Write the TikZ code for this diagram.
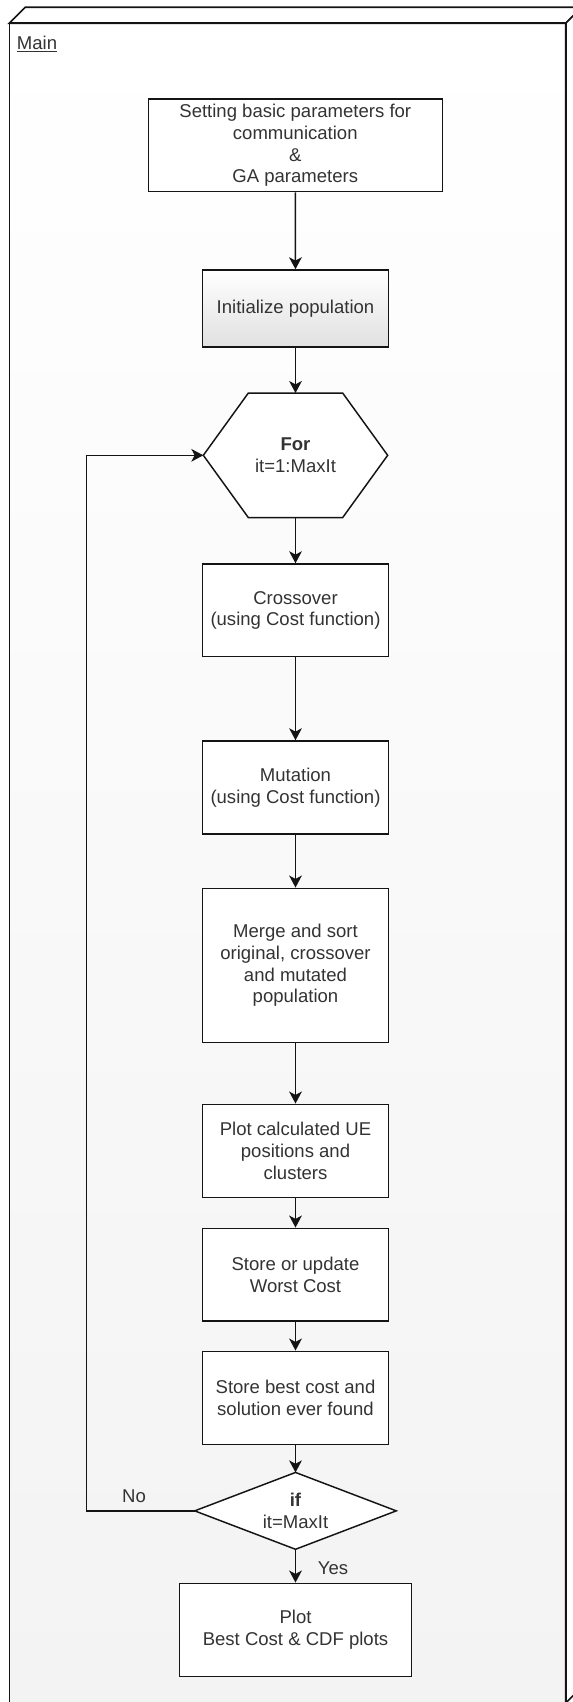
\documentclass[tikz,border=0pt]{standalone}
\usepackage{fontspec}
\setmainfont{Liberation Sans}
\usetikzlibrary{arrows.meta}
\definecolor{ink}{HTML}{141414}
\definecolor{txt}{HTML}{333333}
\definecolor{panelbot}{HTML}{F3F3F3}
\pgfdeclarelayer{frame}
\pgfdeclarelayer{shapes}
\pgfsetlayers{frame,shapes,main}
\begin{document}
\begin{tikzpicture}[x=0.75pt,y=-0.75pt,
  every node/.style={font=\fontsize{13.9}{16.3}\selectfont, text=txt},
  stepbox/.style={draw=ink, line width=1.1pt, fill=white, align=center,
    inner sep=0pt, minimum width=185.6*0.75pt, minimum height=93*0.75pt},
  ghost/.style={draw=none, align=center, inner sep=0pt},
  outline/.style={draw=ink, line width=1.1pt, fill=white},
  arr/.style={draw=ink, line width=1.1pt, -{Stealth[length=9pt,width=9.5pt,inset=2.5pt]}},
  lbl/.style={inner sep=0pt}
]
\useasboundingbox (0,0) rectangle (573,1702);
\clip (0,0) rectangle (573,1702);

% package frame (3-D box)
\begin{pgfonlayer}{frame}
  \fill[white] (0,0) rectangle (573,1702);
  \shade[top color=white, bottom color=panelbot] (9.3,23.3) rectangle (565.7,1703);
  \draw[ink, line width=1.2pt, fill=white] (9.3,23.3) -- (25.3,7.3) -- (581.7,7.3) -- (565.7,23.3) -- cycle;
  \draw[ink, line width=1.2pt, fill=white] (565.7,23.3) -- (581.7,7.3) -- (581.7,1687) -- (565.7,1703) -- cycle;
  \draw[ink, line width=1.2pt] (9.3,23.3) rectangle (565.7,1703);
\end{pgfonlayer}
\node[lbl, anchor=base west] (main) at (16.7,49.3) {\underline{Main}};

% process steps
\node[stepbox, minimum width=294*0.75pt, minimum height=92.7*0.75pt] (set) at (295.3,145.35)
  {Setting basic parameters for\\communication\\\&\\GA parameters};
\node[stepbox, minimum height=77*0.75pt, top color=white, bottom color=black!12] (init) at (295.5,308.5)
  {Initialize population};
\node[ghost, minimum width=183.8*0.75pt, minimum height=124*0.75pt] (for) at (295.5,455.3)
  {\textbf{For}\\it=1:MaxIt};
\node[stepbox, minimum height=92.7*0.75pt] (cross) at (295.5,610.35)
  {Crossover\\(using Cost function)};
\node[stepbox] (mut) at (295.5,787.5)
  {Mutation\\(using Cost function)};
\node[stepbox, minimum height=154.4*0.75pt] (merge) at (295.5,965.5)
  {Merge and sort\\original, crossover\\and mutated\\population};
\node[stepbox] (plotc) at (295.5,1150.8)
  {Plot calculated UE\\positions and\\clusters};
\node[stepbox, minimum height=92.7*0.75pt] (worst) at (295.5,1274.65)
  {Store or update\\Worst Cost};
\node[stepbox] (best) at (295.5,1397.8)
  {Store best cost and\\solution ever found};
\node[ghost, minimum width=201*0.75pt, minimum height=76.3*0.75pt] (if) at (295.5,1510.85)
  {\textbf{if}\\it=MaxIt};
\node[stepbox, minimum width=232.4*0.75pt, minimum height=93.4*0.75pt] (final) at (295.5,1630)
  {Plot\\Best Cost \& CDF plots};

% loop hexagon and decision diamond outlines
\begin{pgfonlayer}{shapes}
  \draw[outline] (for.west) -- ([xshift=33.75pt]for.north west) -- ([xshift=-33.75pt]for.north east)
    -- (for.east) -- ([xshift=-33.75pt]for.south east) -- ([xshift=33.75pt]for.south west) -- cycle;
  \draw[outline] (if.west) -- (if.north) -- (if.east) -- (if.south) -- cycle;
\end{pgfonlayer}

% connectors
\draw[arr] (set) -- (init);
\draw[arr] (init) -- (for);
\draw[arr] (for) -- (cross);
\draw[arr] (cross) -- (mut);
\draw[arr] (mut) -- (merge);
\draw[arr] (merge) -- (plotc);
\draw[arr] (plotc) -- (worst);
\draw[arr] (worst) -- (best);
\draw[arr] (best) -- (if.north);
\draw[arr] (if.south) -- (final);
\coordinate (back) at (86.7,0);
\draw[arr] (if.west) -- (if.west -| back) -- (for.west -| back) -- (for.west);
\node[lbl] (no) at (134,1496) {No};
\node[lbl] (yes) at (333,1568) {Yes};
\end{tikzpicture}
\end{document}
